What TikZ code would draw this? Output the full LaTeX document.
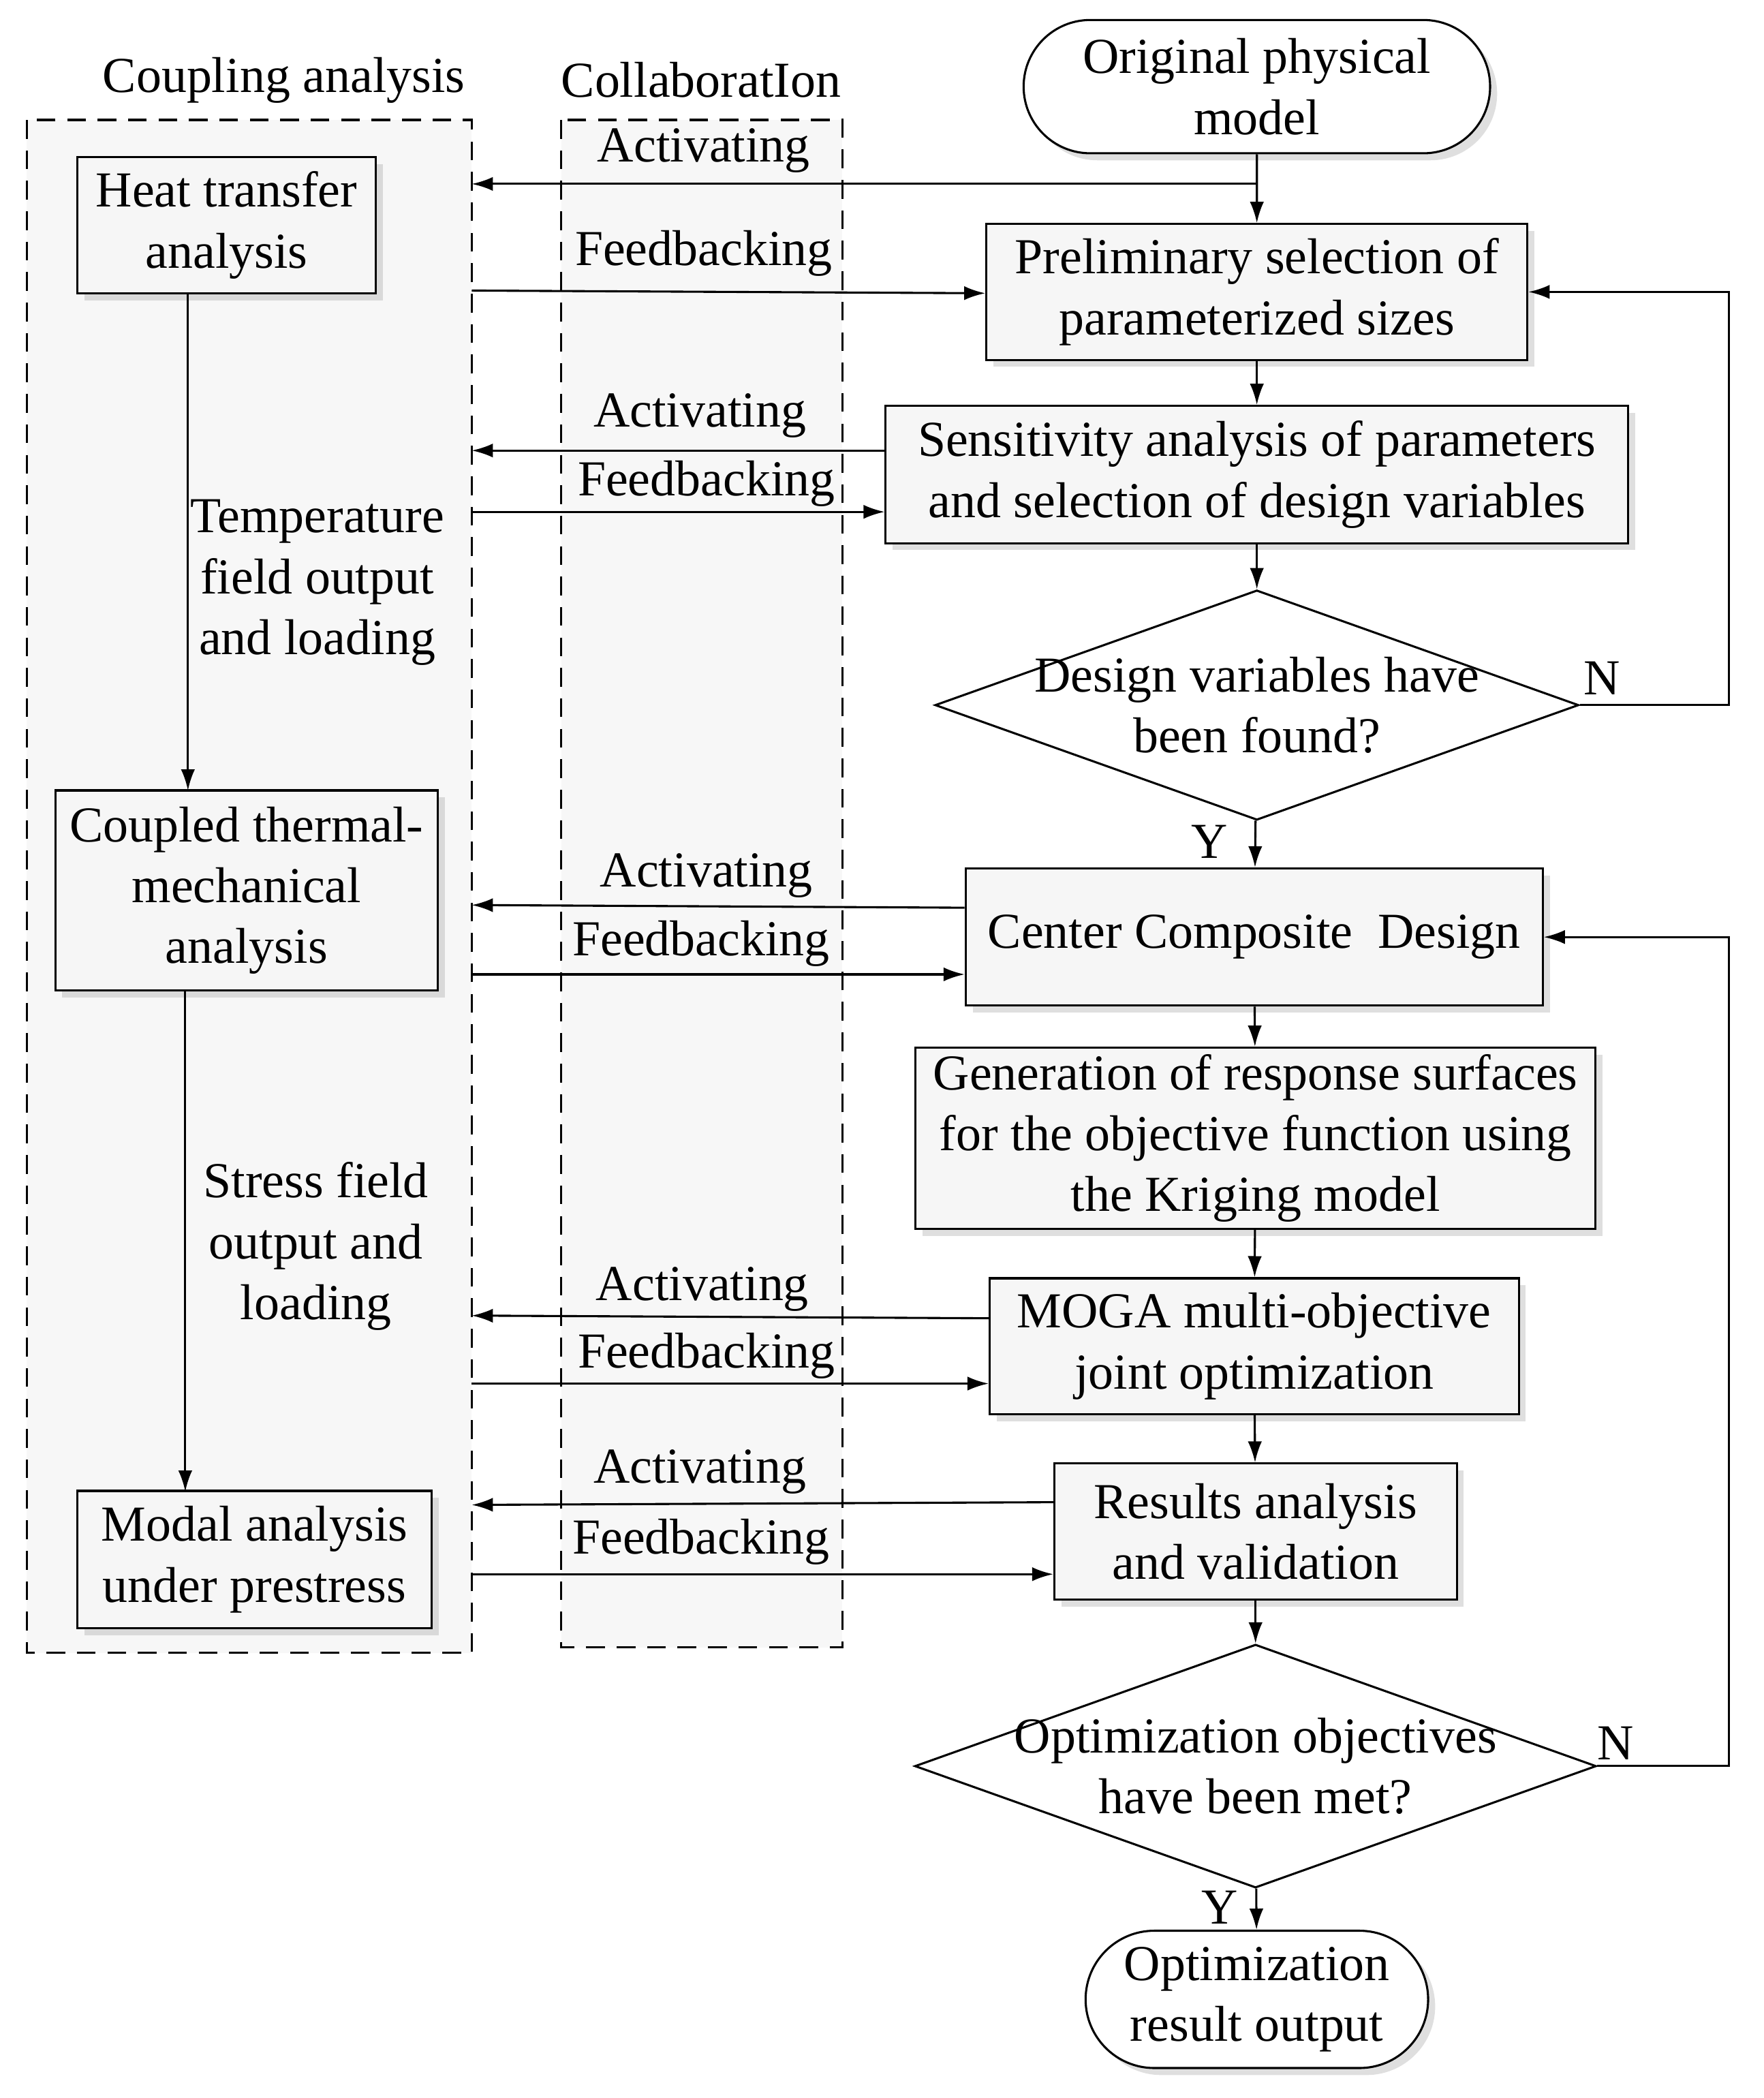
\documentclass[tikz,border=0pt]{standalone}
\usepackage{fontspec}
\setmainfont{Liberation Serif}
\usetikzlibrary{shapes.geometric,shapes.misc,shadows,arrows.meta}
\tikzset{
  box/.style={draw,fill=gray!7,drop shadow={opacity=0.25,shadow xshift=3pt,shadow yshift=-3pt},align=center,inner sep=0pt},
  term/.style={draw,fill=white,rounded rectangle,align=center,inner sep=0pt,drop shadow={opacity=0.25,shadow xshift=3pt,shadow yshift=-3pt}},
  dec/.style={draw,diamond,fill=white,aspect=2.8,align=center,inner sep=-4pt},
  lane/.style={draw,dash pattern=on 8pt off 5pt,fill=gray!6},
  arr/.style={-{Latex[length=9pt,width=6pt]}},
  lbl/.style={align=center}
}
\begin{document}
\begin{tikzpicture}[x=0.02cm,y=-0.02cm,line width=0.9pt,font=\fontsize{21.5}{26}\selectfont]
\useasboundingbox (0,0) rectangle (1323,1574);

% lanes
\draw[lane] (20,90) rectangle (354,1240);
\draw[lane] (421,90) rectangle (632,1236);
\node (coupling) at (213,60) {Coupling analysis};
\node (collab) at (526,60) {CollaboratIon};

% left column
\node[box,minimum width=224*0.02cm,minimum height=102*0.02cm] (heat) at (170,169) {Heat transfer\\analysis};
\node[box,minimum width=287*0.02cm,minimum height=150*0.02cm] (coupled) at (185,668) {Coupled thermal-\\mechanical\\analysis};
\node[box,minimum width=266*0.02cm,minimum height=103*0.02cm] (modal) at (191,1170) {Modal analysis\\under prestress};
\draw[arr] (141,220) -- (141,593);
\draw[arr] (139,743) -- (139,1119);
\node[lbl] (temp) at (238,437) {Temperature\\field output\\and loading};
\node[lbl] (stress) at (237,935) {Stress field\\output and\\loading};

% right column
\node[term,minimum width=350*0.02cm,minimum height=100*0.02cm] (orig) at (943,65) {Original physical\\model};
\node[box,minimum width=406*0.02cm,minimum height=102*0.02cm] (prelim) at (943,219) {Preliminary selection of\\parameterized sizes};
\node[box,minimum width=557*0.02cm,minimum height=103*0.02cm] (sens) at (943,356) {Sensitivity analysis of parameters\\and selection of design variables};
\node[dec,minimum width=465*0.02cm,minimum height=170*0.02cm] (dv) at (943,529) {Design variables have\\been found?};
\node[box,minimum width=433*0.02cm,minimum height=103*0.02cm] (ccd) at (941,703) {Center Composite\ \ Design};
\node[box,minimum width=510*0.02cm,minimum height=136*0.02cm] (gen) at (942,854) {Generation of response surfaces\\for the objective function using\\the Kriging model};
\node[box,minimum width=397*0.02cm,minimum height=102*0.02cm] (moga) at (941,1010) {MOGA multi-objective\\joint optimization};
\node[box,minimum width=302*0.02cm,minimum height=102*0.02cm] (res) at (942,1149) {Results analysis\\and validation};
\node[dec,minimum width=491*0.02cm,minimum height=175*0.02cm] (obj) at (942,1325) {Optimization objectives\\have been met?};
\node[term,minimum width=257*0.02cm,minimum height=103*0.02cm] (out) at (943,1500) {Optimization\\result output};

\draw[arr] (orig) -- (prelim);
\draw[arr] (prelim) -- (sens);
\draw[arr] (sens) -- (dv);
\draw[arr] (dv) -- (ccd) node[pos=0.45,left=8pt] {Y};
\draw[arr] (ccd) -- (gen);
\draw[arr] (gen) -- (moga);
\draw[arr] (moga) -- (res);
\draw[arr] (res) -- (obj);
\draw[arr] (obj) -- (out) node[pos=0.45,left=4pt] {Y};
\draw[arr] (dv.east) -- (1297,529) |- (prelim.east);
\node (n1) at (1202,509) {N};
\draw[arr] (obj.east) -- (1297,1325) |- (ccd.east);
\node (n2) at (1212,1308) {N};

% collaboration arrows
\coordinate (a1) at (943,138);
\draw[arr] (a1) -- (354,138);
\node (act1) at (528,113) {Activating};
\draw[arr] (354,218) -- (prelim.west |- 0,220);
\node (fb1) at (528,190) {Feedbacking};
\draw[arr] (sens.west |- 0,338) -- (354,338);
\node (act2) at (525,312) {Activating};
\draw[arr] (354,384) -- (sens.west |- 0,384);
\node (fb2) at (530,363) {Feedbacking};
\draw[arr] (ccd.west |- 0,681) -- (354,679);
\node (act3) at (530,657) {Activating};
\draw[arr] (354,731) -- (ccd.west |- 0,731);
\node (fb3) at (526,708) {Feedbacking};
\draw[arr] (moga.west |- 0,989) -- (354,987);
\node (act4) at (527,967) {Activating};
\draw[arr] (354,1038) -- (moga.west |- 0,1038);
\node (fb4) at (530,1017) {Feedbacking};
\draw[arr] (res.west |- 0,1127) -- (354,1129);
\node (act5) at (525,1104) {Activating};
\draw[arr] (354,1181) -- (res.west |- 0,1181);
\node (fb5) at (526,1157) {Feedbacking};
\end{tikzpicture}
\end{document}
